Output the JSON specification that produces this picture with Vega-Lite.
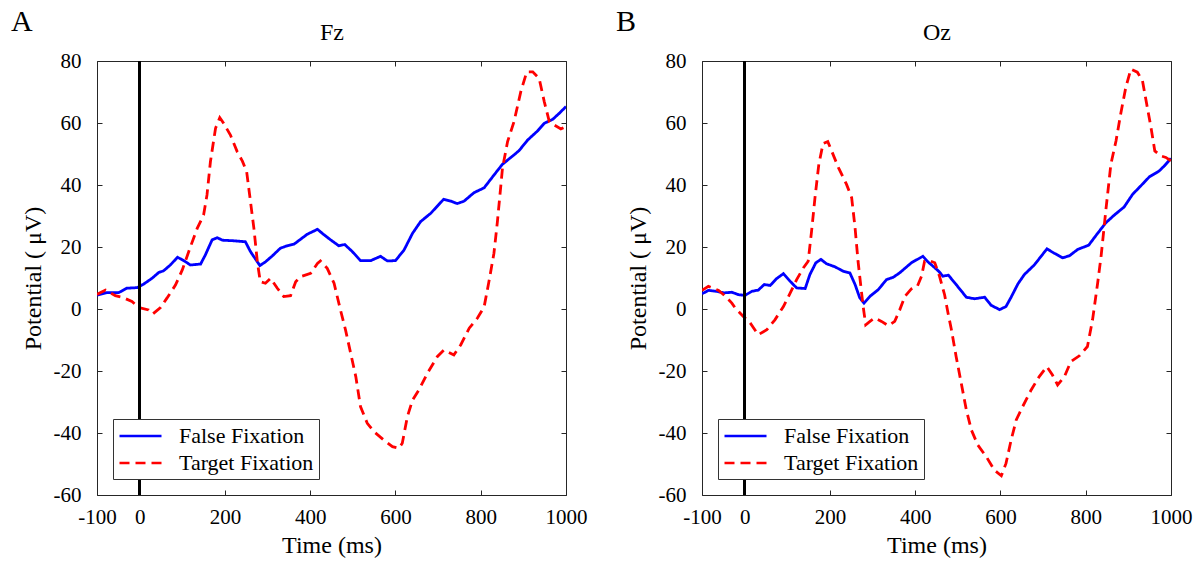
{
  "$schema": "https://vega.github.io/schema/vega-lite/v6.json",
  "padding": {"left": 10, "top": 6, "right": 2, "bottom": 0},
  "background": "white",
  "config": {
    "font": "Liberation Serif",
    "view": {"stroke": "#262626", "strokeWidth": 1},
    "axis": {"grid": false, "domain": false, "tickColor": "#262626", "tickSize": -5, "labelFlush": false, "labelFont": "Liberation Serif", "labelFontSize": 21, "labelColor": "black", "titleFont": "Liberation Serif", "titleFontSize": 24, "titleFontWeight": "normal", "titleColor": "black"},
    "legend": {"orient": "bottom-left", "offset": 16, "strokeColor": "#333", "fillColor": "white", "padding": 5, "labelFont": "Liberation Serif", "labelFontSize": 22, "labelColor": "black", "symbolType": "M-1,0H3", "symbolSize": 441, "symbolStrokeWidth": 2.6, "rowPadding": 4, "labelOffset": 37, "cornerRadius": 0},
    "title": {"font": "Liberation Serif", "fontSize": 30, "fontWeight": "normal", "color": "black"}
  },
  "datasets": {
    "erp": [
      {"p":"Fz","s":"False Fixation","t":-100,"v":4.5},{"p":"Fz","s":"False Fixation","t":-76,"v":5.3},{"p":"Fz","s":"False Fixation","t":-49,"v":5.3},{"p":"Fz","s":"False Fixation","t":-30,"v":6.7},{"p":"Fz","s":"False Fixation","t":-5,"v":6.9},{"p":"Fz","s":"False Fixation","t":9,"v":8},{"p":"Fz","s":"False Fixation","t":29,"v":9.9},{"p":"Fz","s":"False Fixation","t":45,"v":11.8},{"p":"Fz","s":"False Fixation","t":56,"v":12.3},{"p":"Fz","s":"False Fixation","t":72,"v":14.2},{"p":"Fz","s":"False Fixation","t":89,"v":16.7},{"p":"Fz","s":"False Fixation","t":107,"v":15.3},{"p":"Fz","s":"False Fixation","t":119,"v":14.2},{"p":"Fz","s":"False Fixation","t":143,"v":14.5},{"p":"Fz","s":"False Fixation","t":154,"v":17.4},{"p":"Fz","s":"False Fixation","t":170,"v":22.3},{"p":"Fz","s":"False Fixation","t":182,"v":23},{"p":"Fz","s":"False Fixation","t":194,"v":22.2},{"p":"Fz","s":"False Fixation","t":221,"v":22},{"p":"Fz","s":"False Fixation","t":248,"v":21.7},{"p":"Fz","s":"False Fixation","t":260,"v":18.5},{"p":"Fz","s":"False Fixation","t":282,"v":14},{"p":"Fz","s":"False Fixation","t":295,"v":15.2},{"p":"Fz","s":"False Fixation","t":311,"v":17.1},{"p":"Fz","s":"False Fixation","t":330,"v":19.6},{"p":"Fz","s":"False Fixation","t":346,"v":20.4},{"p":"Fz","s":"False Fixation","t":362,"v":20.9},{"p":"Fz","s":"False Fixation","t":393,"v":24.1},{"p":"Fz","s":"False Fixation","t":417,"v":25.7},{"p":"Fz","s":"False Fixation","t":432,"v":24},{"p":"Fz","s":"False Fixation","t":448,"v":22.3},{"p":"Fz","s":"False Fixation","t":467,"v":20.4},{"p":"Fz","s":"False Fixation","t":481,"v":20.8},{"p":"Fz","s":"False Fixation","t":499,"v":18.5},{"p":"Fz","s":"False Fixation","t":518,"v":15.6},{"p":"Fz","s":"False Fixation","t":542,"v":15.6},{"p":"Fz","s":"False Fixation","t":565,"v":17},{"p":"Fz","s":"False Fixation","t":581,"v":15.5},{"p":"Fz","s":"False Fixation","t":600,"v":15.6},{"p":"Fz","s":"False Fixation","t":620,"v":19},{"p":"Fz","s":"False Fixation","t":640,"v":24.4},{"p":"Fz","s":"False Fixation","t":659,"v":28.2},{"p":"Fz","s":"False Fixation","t":683,"v":30.9},{"p":"Fz","s":"False Fixation","t":713,"v":35.4},{"p":"Fz","s":"False Fixation","t":730,"v":34.8},{"p":"Fz","s":"False Fixation","t":745,"v":34},{"p":"Fz","s":"False Fixation","t":761,"v":34.8},{"p":"Fz","s":"False Fixation","t":784,"v":37.5},{"p":"Fz","s":"False Fixation","t":808,"v":39.1},{"p":"Fz","s":"False Fixation","t":831,"v":43.2},{"p":"Fz","s":"False Fixation","t":851,"v":46.7},{"p":"Fz","s":"False Fixation","t":878,"v":49.7},{"p":"Fz","s":"False Fixation","t":890,"v":51.1},{"p":"Fz","s":"False Fixation","t":910,"v":54.5},{"p":"Fz","s":"False Fixation","t":933,"v":57.4},{"p":"Fz","s":"False Fixation","t":949,"v":59.9},{"p":"Fz","s":"False Fixation","t":969,"v":61.2},{"p":"Fz","s":"False Fixation","t":984,"v":63.1},{"p":"Fz","s":"False Fixation","t":1000,"v":65.3},
      {"p":"Fz","s":"Target Fixation","t":-100,"v":4.7},{"p":"Fz","s":"Target Fixation","t":-80,"v":6.1},{"p":"Fz","s":"Target Fixation","t":-57,"v":4.3},{"p":"Fz","s":"Target Fixation","t":-41,"v":3.8},{"p":"Fz","s":"Target Fixation","t":-18,"v":2.4},{"p":"Fz","s":"Target Fixation","t":-2,"v":0.5},{"p":"Fz","s":"Target Fixation","t":21,"v":-0.3},{"p":"Fz","s":"Target Fixation","t":31,"v":-1.6},{"p":"Fz","s":"Target Fixation","t":49,"v":0.5},{"p":"Fz","s":"Target Fixation","t":64,"v":3.5},{"p":"Fz","s":"Target Fixation","t":84,"v":7.7},{"p":"Fz","s":"Target Fixation","t":100,"v":12.6},{"p":"Fz","s":"Target Fixation","t":119,"v":20},{"p":"Fz","s":"Target Fixation","t":135,"v":26},{"p":"Fz","s":"Target Fixation","t":150,"v":30.3},{"p":"Fz","s":"Target Fixation","t":158,"v":36.8},{"p":"Fz","s":"Target Fixation","t":166,"v":47.5},{"p":"Fz","s":"Target Fixation","t":178,"v":58.3},{"p":"Fz","s":"Target Fixation","t":188,"v":61.7},{"p":"Fz","s":"Target Fixation","t":197,"v":59.9},{"p":"Fz","s":"Target Fixation","t":213,"v":56.1},{"p":"Fz","s":"Target Fixation","t":229,"v":50.7},{"p":"Fz","s":"Target Fixation","t":241,"v":47.7},{"p":"Fz","s":"Target Fixation","t":251,"v":44.3},{"p":"Fz","s":"Target Fixation","t":258,"v":36.8},{"p":"Fz","s":"Target Fixation","t":268,"v":26},{"p":"Fz","s":"Target Fixation","t":276,"v":15.3},{"p":"Fz","s":"Target Fixation","t":283,"v":8.8},{"p":"Fz","s":"Target Fixation","t":295,"v":8.3},{"p":"Fz","s":"Target Fixation","t":307,"v":9.9},{"p":"Fz","s":"Target Fixation","t":323,"v":6.7},{"p":"Fz","s":"Target Fixation","t":338,"v":4},{"p":"Fz","s":"Target Fixation","t":354,"v":4.3},{"p":"Fz","s":"Target Fixation","t":366,"v":8.8},{"p":"Fz","s":"Target Fixation","t":377,"v":10.4},{"p":"Fz","s":"Target Fixation","t":401,"v":11.5},{"p":"Fz","s":"Target Fixation","t":417,"v":14.7},{"p":"Fz","s":"Target Fixation","t":424,"v":15.5},{"p":"Fz","s":"Target Fixation","t":440,"v":13.1},{"p":"Fz","s":"Target Fixation","t":456,"v":8.3},{"p":"Fz","s":"Target Fixation","t":471,"v":-0.3},{"p":"Fz","s":"Target Fixation","t":483,"v":-6.8},{"p":"Fz","s":"Target Fixation","t":495,"v":-14.3},{"p":"Fz","s":"Target Fixation","t":507,"v":-21.8},{"p":"Fz","s":"Target Fixation","t":518,"v":-31.5},{"p":"Fz","s":"Target Fixation","t":534,"v":-36.9},{"p":"Fz","s":"Target Fixation","t":550,"v":-39.6},{"p":"Fz","s":"Target Fixation","t":573,"v":-42.3},{"p":"Fz","s":"Target Fixation","t":593,"v":-44.4},{"p":"Fz","s":"Target Fixation","t":608,"v":-44.9},{"p":"Fz","s":"Target Fixation","t":616,"v":-43.3},{"p":"Fz","s":"Target Fixation","t":628,"v":-34.7},{"p":"Fz","s":"Target Fixation","t":640,"v":-29.4},{"p":"Fz","s":"Target Fixation","t":655,"v":-26.1},{"p":"Fz","s":"Target Fixation","t":675,"v":-20.7},{"p":"Fz","s":"Target Fixation","t":698,"v":-15.4},{"p":"Fz","s":"Target Fixation","t":714,"v":-13.2},{"p":"Fz","s":"Target Fixation","t":737,"v":-14.8},{"p":"Fz","s":"Target Fixation","t":753,"v":-11.6},{"p":"Fz","s":"Target Fixation","t":773,"v":-6.2},{"p":"Fz","s":"Target Fixation","t":792,"v":-3},{"p":"Fz","s":"Target Fixation","t":808,"v":0.7},{"p":"Fz","s":"Target Fixation","t":820,"v":9.4},{"p":"Fz","s":"Target Fixation","t":831,"v":18},{"p":"Fz","s":"Target Fixation","t":839,"v":28},{"p":"Fz","s":"Target Fixation","t":851,"v":45.4},{"p":"Fz","s":"Target Fixation","t":863,"v":54},{"p":"Fz","s":"Target Fixation","t":878,"v":60.4},{"p":"Fz","s":"Target Fixation","t":894,"v":70.1},{"p":"Fz","s":"Target Fixation","t":908,"v":76.5},{"p":"Fz","s":"Target Fixation","t":922,"v":76.5},{"p":"Fz","s":"Target Fixation","t":937,"v":74.4},{"p":"Fz","s":"Target Fixation","t":949,"v":66.9},{"p":"Fz","s":"Target Fixation","t":961,"v":60.4},{"p":"Fz","s":"Target Fixation","t":972,"v":59.4},{"p":"Fz","s":"Target Fixation","t":988,"v":58.1},{"p":"Fz","s":"Target Fixation","t":1000,"v":58.8},
      {"p":"Oz","s":"False Fixation","t":-100,"v":4.9},{"p":"Oz","s":"False Fixation","t":-85,"v":6},{"p":"Oz","s":"False Fixation","t":-65,"v":5.7},{"p":"Oz","s":"False Fixation","t":-49,"v":5.2},{"p":"Oz","s":"False Fixation","t":-30,"v":5.4},{"p":"Oz","s":"False Fixation","t":-14,"v":4.6},{"p":"Oz","s":"False Fixation","t":1,"v":4.4},{"p":"Oz","s":"False Fixation","t":17,"v":5.7},{"p":"Oz","s":"False Fixation","t":32,"v":6.1},{"p":"Oz","s":"False Fixation","t":46,"v":7.9},{"p":"Oz","s":"False Fixation","t":60,"v":7.6},{"p":"Oz","s":"False Fixation","t":75,"v":9.8},{"p":"Oz","s":"False Fixation","t":91,"v":11.4},{"p":"Oz","s":"False Fixation","t":107,"v":8.9},{"p":"Oz","s":"False Fixation","t":122,"v":6.8},{"p":"Oz","s":"False Fixation","t":142,"v":6.6},{"p":"Oz","s":"False Fixation","t":153,"v":11.1},{"p":"Oz","s":"False Fixation","t":167,"v":14.9},{"p":"Oz","s":"False Fixation","t":179,"v":16},{"p":"Oz","s":"False Fixation","t":192,"v":14.6},{"p":"Oz","s":"False Fixation","t":212,"v":13.6},{"p":"Oz","s":"False Fixation","t":231,"v":12.2},{"p":"Oz","s":"False Fixation","t":247,"v":11.6},{"p":"Oz","s":"False Fixation","t":259,"v":7.9},{"p":"Oz","s":"False Fixation","t":270,"v":3.6},{"p":"Oz","s":"False Fixation","t":280,"v":1.9},{"p":"Oz","s":"False Fixation","t":294,"v":4.1},{"p":"Oz","s":"False Fixation","t":313,"v":6.2},{"p":"Oz","s":"False Fixation","t":333,"v":9.5},{"p":"Oz","s":"False Fixation","t":348,"v":10.2},{"p":"Oz","s":"False Fixation","t":364,"v":11.7},{"p":"Oz","s":"False Fixation","t":391,"v":14.9},{"p":"Oz","s":"False Fixation","t":418,"v":17},{"p":"Oz","s":"False Fixation","t":430,"v":15.2},{"p":"Oz","s":"False Fixation","t":446,"v":13.3},{"p":"Oz","s":"False Fixation","t":455,"v":12.2},{"p":"Oz","s":"False Fixation","t":465,"v":10.6},{"p":"Oz","s":"False Fixation","t":478,"v":10.9},{"p":"Oz","s":"False Fixation","t":496,"v":7.9},{"p":"Oz","s":"False Fixation","t":520,"v":3.8},{"p":"Oz","s":"False Fixation","t":539,"v":3.3},{"p":"Oz","s":"False Fixation","t":563,"v":3.8},{"p":"Oz","s":"False Fixation","t":578,"v":1.2},{"p":"Oz","s":"False Fixation","t":598,"v":-0.2},{"p":"Oz","s":"False Fixation","t":613,"v":0.8},{"p":"Oz","s":"False Fixation","t":625,"v":3.8},{"p":"Oz","s":"False Fixation","t":641,"v":8.1},{"p":"Oz","s":"False Fixation","t":656,"v":11.1},{"p":"Oz","s":"False Fixation","t":680,"v":14.3},{"p":"Oz","s":"False Fixation","t":709,"v":19.4},{"p":"Oz","s":"False Fixation","t":726,"v":18},{"p":"Oz","s":"False Fixation","t":746,"v":16.5},{"p":"Oz","s":"False Fixation","t":762,"v":17.2},{"p":"Oz","s":"False Fixation","t":781,"v":19.2},{"p":"Oz","s":"False Fixation","t":807,"v":20.6},{"p":"Oz","s":"False Fixation","t":824,"v":23.7},{"p":"Oz","s":"False Fixation","t":847,"v":27.8},{"p":"Oz","s":"False Fixation","t":867,"v":30.3},{"p":"Oz","s":"False Fixation","t":890,"v":32.9},{"p":"Oz","s":"False Fixation","t":910,"v":37},{"p":"Oz","s":"False Fixation","t":929,"v":39.7},{"p":"Oz","s":"False Fixation","t":949,"v":42.6},{"p":"Oz","s":"False Fixation","t":972,"v":44.5},{"p":"Oz","s":"False Fixation","t":984,"v":46.1},{"p":"Oz","s":"False Fixation","t":1000,"v":48.6},
      {"p":"Oz","s":"Target Fixation","t":-100,"v":6},{"p":"Oz","s":"Target Fixation","t":-85,"v":7.3},{"p":"Oz","s":"Target Fixation","t":-61,"v":6},{"p":"Oz","s":"Target Fixation","t":-45,"v":4.1},{"p":"Oz","s":"Target Fixation","t":-30,"v":1.9},{"p":"Oz","s":"Target Fixation","t":-22,"v":0.3},{"p":"Oz","s":"Target Fixation","t":-3,"v":-2.4},{"p":"Oz","s":"Target Fixation","t":13,"v":-4.5},{"p":"Oz","s":"Target Fixation","t":32,"v":-8.3},{"p":"Oz","s":"Target Fixation","t":52,"v":-6.7},{"p":"Oz","s":"Target Fixation","t":71,"v":-3.5},{"p":"Oz","s":"Target Fixation","t":91,"v":0.8},{"p":"Oz","s":"Target Fixation","t":107,"v":5.2},{"p":"Oz","s":"Target Fixation","t":122,"v":9.5},{"p":"Oz","s":"Target Fixation","t":138,"v":13.3},{"p":"Oz","s":"Target Fixation","t":149,"v":15.4},{"p":"Oz","s":"Target Fixation","t":157,"v":25.1},{"p":"Oz","s":"Target Fixation","t":165,"v":35.9},{"p":"Oz","s":"Target Fixation","t":174,"v":46.7},{"p":"Oz","s":"Target Fixation","t":184,"v":53.4},{"p":"Oz","s":"Target Fixation","t":195,"v":54},{"p":"Oz","s":"Target Fixation","t":204,"v":51},{"p":"Oz","s":"Target Fixation","t":220,"v":45.6},{"p":"Oz","s":"Target Fixation","t":239,"v":40.2},{"p":"Oz","s":"Target Fixation","t":251,"v":35.9},{"p":"Oz","s":"Target Fixation","t":259,"v":26.2},{"p":"Oz","s":"Target Fixation","t":266,"v":15.4},{"p":"Oz","s":"Target Fixation","t":273,"v":6.8},{"p":"Oz","s":"Target Fixation","t":278,"v":0.8},{"p":"Oz","s":"Target Fixation","t":284,"v":-5.1},{"p":"Oz","s":"Target Fixation","t":294,"v":-4},{"p":"Oz","s":"Target Fixation","t":305,"v":-2.9},{"p":"Oz","s":"Target Fixation","t":321,"v":-4},{"p":"Oz","s":"Target Fixation","t":337,"v":-5.4},{"p":"Oz","s":"Target Fixation","t":352,"v":-4},{"p":"Oz","s":"Target Fixation","t":364,"v":-0.2},{"p":"Oz","s":"Target Fixation","t":376,"v":4.1},{"p":"Oz","s":"Target Fixation","t":391,"v":6.5},{"p":"Oz","s":"Target Fixation","t":405,"v":7.3},{"p":"Oz","s":"Target Fixation","t":415,"v":10.6},{"p":"Oz","s":"Target Fixation","t":422,"v":15.4},{"p":"Oz","s":"Target Fixation","t":435,"v":15.5},{"p":"Oz","s":"Target Fixation","t":446,"v":14.9},{"p":"Oz","s":"Target Fixation","t":457,"v":10.6},{"p":"Oz","s":"Target Fixation","t":469,"v":4.6},{"p":"Oz","s":"Target Fixation","t":477,"v":-1.3},{"p":"Oz","s":"Target Fixation","t":485,"v":-6.7},{"p":"Oz","s":"Target Fixation","t":496,"v":-15.3},{"p":"Oz","s":"Target Fixation","t":508,"v":-23.9},{"p":"Oz","s":"Target Fixation","t":520,"v":-32.6},{"p":"Oz","s":"Target Fixation","t":532,"v":-39.1},{"p":"Oz","s":"Target Fixation","t":547,"v":-43.9},{"p":"Oz","s":"Target Fixation","t":567,"v":-47.7},{"p":"Oz","s":"Target Fixation","t":586,"v":-52},{"p":"Oz","s":"Target Fixation","t":602,"v":-53.8},{"p":"Oz","s":"Target Fixation","t":613,"v":-49.8},{"p":"Oz","s":"Target Fixation","t":625,"v":-42.3},{"p":"Oz","s":"Target Fixation","t":637,"v":-35.8},{"p":"Oz","s":"Target Fixation","t":652,"v":-31.5},{"p":"Oz","s":"Target Fixation","t":672,"v":-26.1},{"p":"Oz","s":"Target Fixation","t":691,"v":-21.8},{"p":"Oz","s":"Target Fixation","t":709,"v":-18.6},{"p":"Oz","s":"Target Fixation","t":722,"v":-21.3},{"p":"Oz","s":"Target Fixation","t":734,"v":-24.5},{"p":"Oz","s":"Target Fixation","t":750,"v":-21.8},{"p":"Oz","s":"Target Fixation","t":765,"v":-17},{"p":"Oz","s":"Target Fixation","t":785,"v":-15.1},{"p":"Oz","s":"Target Fixation","t":804,"v":-12.1},{"p":"Oz","s":"Target Fixation","t":816,"v":-3.5},{"p":"Oz","s":"Target Fixation","t":828,"v":8.4},{"p":"Oz","s":"Target Fixation","t":836,"v":17},{"p":"Oz","s":"Target Fixation","t":847,"v":31.6},{"p":"Oz","s":"Target Fixation","t":859,"v":46.7},{"p":"Oz","s":"Target Fixation","t":871,"v":54.2},{"p":"Oz","s":"Target Fixation","t":882,"v":62.9},{"p":"Oz","s":"Target Fixation","t":894,"v":71.5},{"p":"Oz","s":"Target Fixation","t":906,"v":77.4},{"p":"Oz","s":"Target Fixation","t":921,"v":76.4},{"p":"Oz","s":"Target Fixation","t":933,"v":73.7},{"p":"Oz","s":"Target Fixation","t":943,"v":66.1},{"p":"Oz","s":"Target Fixation","t":953,"v":58.6},{"p":"Oz","s":"Target Fixation","t":962,"v":51},{"p":"Oz","s":"Target Fixation","t":976,"v":49.4},{"p":"Oz","s":"Target Fixation","t":988,"v":48.9},{"p":"Oz","s":"Target Fixation","t":1000,"v":47.8}
    ]
  },
  "data": {"name": "erp"},
  "bounds": "flush",
  "spacing": 136,
  "resolve": {"legend": {"color": "independent", "strokeDash": "independent"}, "scale": {"x": "independent", "y": "independent"}, "axis": {"x": "independent", "y": "independent"}},
  "hconcat": [
    {
      "title": {"text": "A", "anchor": "start", "frame": "bounds", "dx": -10, "dy": 20},
      "width": 469,
      "height": 434,
      "transform": [{"filter": "datum.p === 'Fz'"}],
      "resolve": {"axis": {"x": "independent", "y": "independent"}},
      "layer": [
        {
          "mark": {"type": "line", "strokeWidth": 2.8, "clip": true},
          "encoding": {
            "x": {"field": "t", "type": "quantitative", "scale": {"domain": [-100, 1000], "nice": false, "zero": false}, "axis": {"orient": "bottom", "values": [-100, 0, 200, 400, 600, 800, 1000], "labelExpr": "'' + datum.value", "labelPadding": 16, "title": "Time (ms)", "titlePadding": 6}},
            "y": {"field": "v", "type": "quantitative", "scale": {"domain": [-60, 80], "nice": false}, "axis": {"orient": "left", "values": [-60, -40, -20, 0, 20, 40, 60, 80], "labelExpr": "'' + datum.value", "labelPadding": 21, "title": "Potential ( μV)", "titlePadding": 8}},
            "color": {"field": "s", "type": "nominal", "scale": {"domain": ["False Fixation", "Target Fixation"], "range": ["#0000ff", "#ff0000"]}, "legend": {"title": null}},
            "strokeDash": {"field": "s", "type": "nominal", "scale": {"domain": ["False Fixation", "Target Fixation"], "range": [[1, 0], [10, 6]]}, "legend": {"title": null}}
          }
        },
        {
          "mark": {"type": "line", "opacity": 0},
          "encoding": {
            "x": {"field": "t", "type": "quantitative", "axis": {"orient": "top", "values": [-100, 0, 200, 400, 600, 800, 1000], "labels": false, "title": "Fz", "titlePadding": 16}},
            "y": {"field": "v", "type": "quantitative", "axis": {"orient": "right", "values": [-60, -40, -20, 0, 20, 40, 60, 80], "labels": false, "title": null}}
          }
        },
        {
          "mark": {"type": "rule", "color": "black", "strokeWidth": 2.5},
          "encoding": {"x": {"datum": 0, "type": "quantitative", "axis": null}}
        }
      ]
    },
    {
      "title": {"text": "B", "anchor": "start", "frame": "bounds", "dx": -10, "dy": 20},
      "width": 469,
      "height": 434,
      "transform": [{"filter": "datum.p === 'Oz'"}],
      "resolve": {"axis": {"x": "independent", "y": "independent"}},
      "layer": [
        {
          "mark": {"type": "line", "strokeWidth": 2.8, "clip": true},
          "encoding": {
            "x": {"field": "t", "type": "quantitative", "scale": {"domain": [-100, 1000], "nice": false, "zero": false}, "axis": {"orient": "bottom", "values": [-100, 0, 200, 400, 600, 800, 1000], "labelExpr": "'' + datum.value", "labelPadding": 16, "title": "Time (ms)", "titlePadding": 6}},
            "y": {"field": "v", "type": "quantitative", "scale": {"domain": [-60, 80], "nice": false}, "axis": {"orient": "left", "values": [-60, -40, -20, 0, 20, 40, 60, 80], "labelExpr": "'' + datum.value", "labelPadding": 21, "title": "Potential ( μV)", "titlePadding": 8}},
            "color": {"field": "s", "type": "nominal", "scale": {"domain": ["False Fixation", "Target Fixation"], "range": ["#0000ff", "#ff0000"]}, "legend": {"title": null}},
            "strokeDash": {"field": "s", "type": "nominal", "scale": {"domain": ["False Fixation", "Target Fixation"], "range": [[1, 0], [10, 6]]}, "legend": {"title": null}}
          }
        },
        {
          "mark": {"type": "line", "opacity": 0},
          "encoding": {
            "x": {"field": "t", "type": "quantitative", "axis": {"orient": "top", "values": [-100, 0, 200, 400, 600, 800, 1000], "labels": false, "title": "Oz", "titlePadding": 16}},
            "y": {"field": "v", "type": "quantitative", "axis": {"orient": "right", "values": [-60, -40, -20, 0, 20, 40, 60, 80], "labels": false, "title": null}}
          }
        },
        {
          "mark": {"type": "rule", "color": "black", "strokeWidth": 2.5},
          "encoding": {"x": {"datum": 0, "type": "quantitative", "axis": null}}
        }
      ]
    }
  ]
}
